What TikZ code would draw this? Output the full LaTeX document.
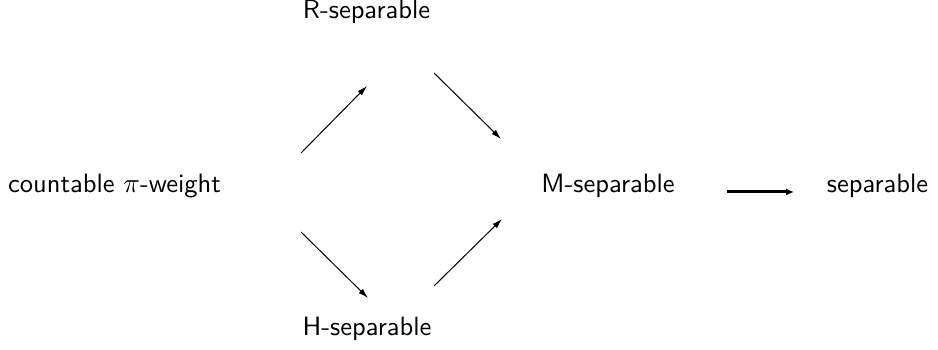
\documentclass[tikz,border=0pt]{standalone}
\usepackage{amsmath}
\usetikzlibrary{arrows.meta}

\tikzset{
	every node/.style={anchor=base, inner sep=0pt, font=\sffamily\fontsize{10.6}{13}\selectfont},
	imp/.style={line width=0.4pt, -{Latex[length=4pt, width=2.4pt]}},
	strong/.style={line width=1.2pt, -{Latex[length=3.2pt, width=2.8pt]}}
}

\begin{document}
\begin{tikzpicture}[x=0.4pt, y=-0.4pt]
	\useasboundingbox (0,0) rectangle (938,350);
	\node (cpw) at (114.5,193) {countable $\pi$-weight};
	\node (rsep) at (366.5,19) {R-separable};
	\node (hsep) at (367,336) {H-separable};
	\node (msep) at (608,193) {M-separable};
	\node (sep) at (877.5,193) {separable};

	\draw [imp] ([shift={(186.5,-40)}]cpw.base) -- ([shift={(0.5,67)}]rsep.base);
	\draw [imp] ([shift={(67.5,54)}]rsep.base) -- ([shift={(-107,-54)}]msep.base);
	\draw [imp] ([shift={(186.5,39)}]cpw.base) -- ([shift={(1,-38)}]hsep.base);
	\draw [imp] ([shift={(67,-50)}]hsep.base) -- ([shift={(-106,26)}]msep.base);
	\draw [strong] ([shift={(119,-1)}]msep.base) -- ([shift={(-83.5,-1)}]sep.base);
\end{tikzpicture}
\end{document}
